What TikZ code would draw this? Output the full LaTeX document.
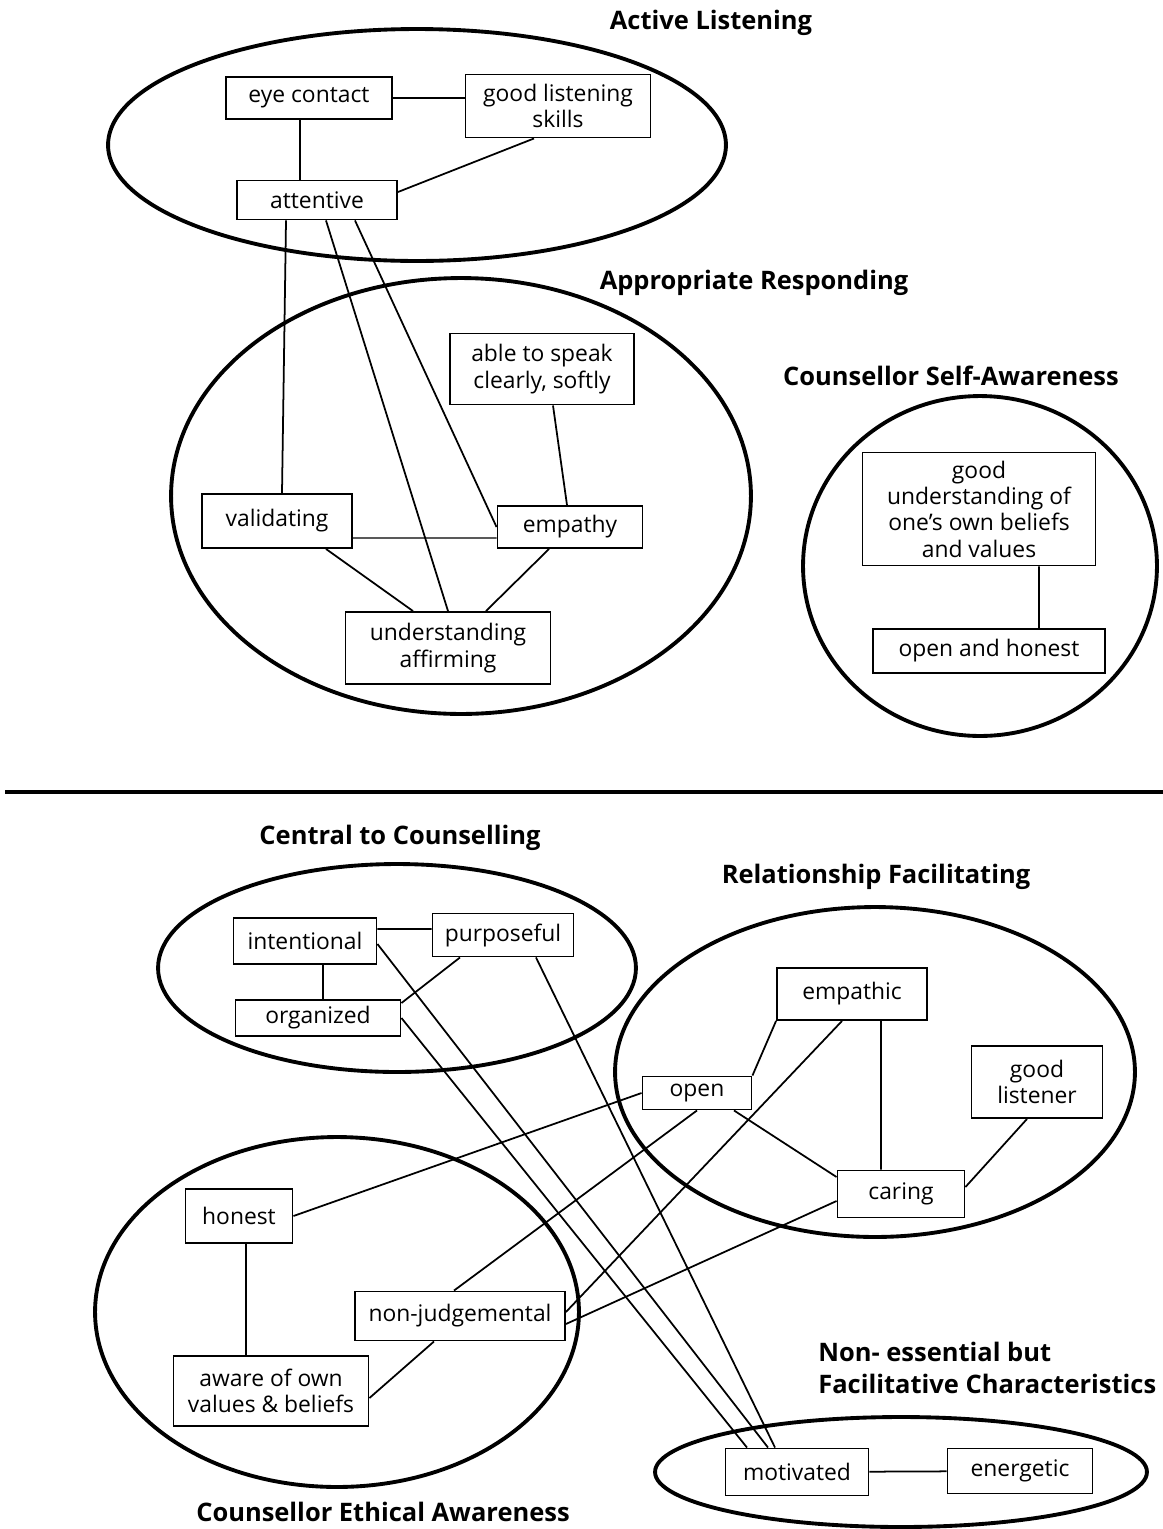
\documentclass[tikz,border=0pt]{standalone}
\usepackage{fontspec}
\setmainfont{Open Sans}
\begin{document}
\begin{tikzpicture}[x=0.02cm, y=-0.02cm]
      \tikzstyle{STY1} = [draw, rectangle, line width=1.1pt, align=center, inner sep=0pt, font=\fontsize{13}{15}\selectfont]
      \tikzstyle{STY2} = [line width=1pt]
      \tikzstyle{STY3} = [line width=2.2pt]
      \tikzstyle{STY4} = [font=\bfseries\fontsize{14.5}{18}\selectfont, align=left, inner sep=0pt]
      \tikzstyle{STY5} = [line width=0.6pt]

      \useasboundingbox (0,0) rectangle (1163,1529);

      %%%%% GROUPS
      \draw[STY3] (417,145) ellipse [x radius=6.18cm, y radius=2.32cm];
      \draw[STY3] (461,496) ellipse [x radius=5.8cm, y radius=4.36cm];
      \draw[STY3] (980,566) ellipse [x radius=3.54cm, y radius=3.4cm];

      \draw[STY3] (397,968) ellipse [x radius=4.78cm, y radius=2.08cm];
      \draw[STY3] (875,1072) ellipse [x radius=5.2cm, y radius=3.3cm];
      \draw[STY3] (337,1312) ellipse [x radius=4.84cm, y radius=3.5cm];
      \draw[STY3] (901,1472) ellipse [x radius=4.92cm, y radius=1.1cm];

      \coordinate (sepL) at (5,792);
      \coordinate (sepR) at (1163,792);
      \draw[line width=2.8pt] (sepL) -- (sepR);

      %%%%% TITLES
      \node[STY4] (tlisten) at (711,23) {Active Listening};
      \node[STY4] (trespond) at (754,283) {Appropriate Responding};
      \node[STY4] (tself) at (951,376) {Counsellor Self-Awareness};
      \node[STY4] (tcentral) at (400,838) {Central to Counselling};
      \node[STY4] (trelation) at (876,877) {Relationship Facilitating};
      \node[STY4, anchor=west] (tnoness) at (818,1368) {Non- essential but\\Facilitative Characteristics};
      \node[STY4] (tethic) at (383,1512) {Counsellor Ethical Awareness};

      %%%%% VERTEX
      \node[STY1, minimum width=3.32cm, minimum height=0.84cm] (eye) at (309,98) {eye contact};
      \node[STY1, minimum width=3.7cm, minimum height=1.26cm] (skills) at (558,106) {good listening\\skills};
      \node[STY1, minimum width=3.2cm, minimum height=0.78cm] (att) at (317,200) {attentive};

      \node[STY1, minimum width=3.68cm, minimum height=1.42cm] (speak) at (542,369) {able to speak\\clearly, softly};
      \node[STY1, minimum width=3.0cm, minimum height=1.08cm] (valid) at (277,521) {validating};
      \node[STY1, minimum width=2.9cm, minimum height=0.84cm] (empathy) at (570,527) {empathy};
      \node[STY1, minimum width=4.1cm, minimum height=1.44cm] (affirm) at (448,648) {understanding\\affirming};

      \node[STY1, minimum width=4.66cm, minimum height=2.26cm] (beliefs) at (979,509) {good\\understanding of\\one's own beliefs\\and values};
      \node[STY1, minimum width=4.64cm, minimum height=0.88cm] (openhon) at (989,651) {open and honest};

      \node[STY1, minimum width=2.86cm, minimum height=0.92cm] (intent) at (305,941) {intentional};
      \node[STY1, minimum width=2.82cm, minimum height=0.86cm] (purp) at (503,935) {purposeful};
      \node[STY1, minimum width=3.3cm, minimum height=0.72cm] (organ) at (318,1018) {organized};

      \node[STY1, minimum width=3.0cm, minimum height=1.04cm] (empc) at (852,994) {empathic};
      \node[STY1, minimum width=2.62cm, minimum height=1.44cm] (glist) at (1037,1082) {good\\listener};
      \node[STY1, minimum width=2.18cm, minimum height=0.66cm] (open) at (697,1093) {open};
      \node[STY1, minimum width=2.54cm, minimum height=0.94cm] (caring) at (901,1194) {caring};

      \node[STY1, minimum width=2.14cm, minimum height=1.08cm] (honest) at (239,1216) {honest};
      \node[STY1, minimum width=4.2cm, minimum height=0.98cm] (nonjud) at (460,1316) {non-judgemental};
      \node[STY1, minimum width=3.9cm, minimum height=1.4cm] (aware) at (271,1391) {aware of own\\values \& beliefs};

      \node[STY1, minimum width=2.86cm, minimum height=0.94cm] (motiv) at (797,1472) {motivated};
      \node[STY1, minimum width=2.9cm, minimum height=0.9cm] (energ) at (1020,1471) {energetic};

      %%%%% EDGES
      \draw[STY2] (eye.east) -- (eye.east -| skills.west);
      \draw[STY2] ([xshift=-0.18cm]eye.south) -- ([xshift=-0.18cm]eye.south |- att.north);
      \draw[STY2] ([xshift=-0.48cm]skills.south) -- ([yshift=0.16cm]att.east);
      \draw[STY2] ([xshift=-0.62cm]att.south) -- ([xshift=0.1cm]valid.north);
      \draw[STY2] ([xshift=0.18cm]att.south) -- (affirm.north);
      \draw[STY2] ([xshift=0.76cm]att.south) -- (empathy.west);
      \draw[STY2] ([xshift=0.22cm]speak.south) -- ([xshift=-0.06cm]empathy.north);
      \draw[STY5] ([yshift=-0.34cm]valid.east) -- ([yshift=-0.22cm]empathy.west);
      \draw[STY2] ([xshift=0.98cm]valid.south) -- ([xshift=-0.7cm]affirm.north);
      \draw[STY2] ([xshift=-0.42cm]empathy.south) -- ([xshift=0.76cm]affirm.north);
      \draw[STY2] ([xshift=1.2cm]beliefs.south) -- ([xshift=1.0cm]openhon.north);

      \draw[STY2] ([yshift=0.24cm]intent.east) -- ([yshift=0.12cm]purp.west);
      \draw[STY2] ([xshift=0.36cm]intent.south) -- ([xshift=0.1cm]organ.north);
      \draw[STY2] ([xshift=-0.86cm]purp.south) -- ([yshift=0.3cm]organ.east);
      \draw[STY2] ([yshift=-0.06cm]intent.east) -- ([xshift=-0.58cm]motiv.north);
      \draw[STY2] (organ.east) -- ([xshift=-1.0cm]motiv.north);
      \draw[STY2] ([xshift=0.66cm]purp.south) -- ([xshift=-0.44cm]motiv.north);

      \draw[STY2] (empc.south west) -- (open.north east);
      \draw[STY2] ([xshift=0.58cm]empc.south) -- ([xshift=-0.4cm]caring.north);
      \draw[STY2] ([xshift=0.74cm]open.south) -- ([yshift=0.34cm]caring.west);
      \draw[STY2] ([xshift=-0.2cm]glist.south) -- ([yshift=0.14cm]caring.east);

      \draw[STY2] (open.west) -- (honest.east);
      \draw[STY2] (open.south) -- ([xshift=-0.12cm]nonjud.north);
      \draw[STY2] ([xshift=-0.2cm]empc.south) -- ([yshift=0.08cm]nonjud.east);
      \draw[STY2] ([yshift=-0.14cm]caring.west) -- ([yshift=-0.16cm]nonjud.east);
      \draw[STY2] ([xshift=0.14cm]honest.south) -- ([xshift=-0.5cm]aware.north);
      \draw[STY2] ([xshift=-0.52cm]nonjud.south) -- ([yshift=-0.14cm]aware.east);

      \draw[STY2] (motiv) -- (energ);
    \end{tikzpicture}
\end{document}
